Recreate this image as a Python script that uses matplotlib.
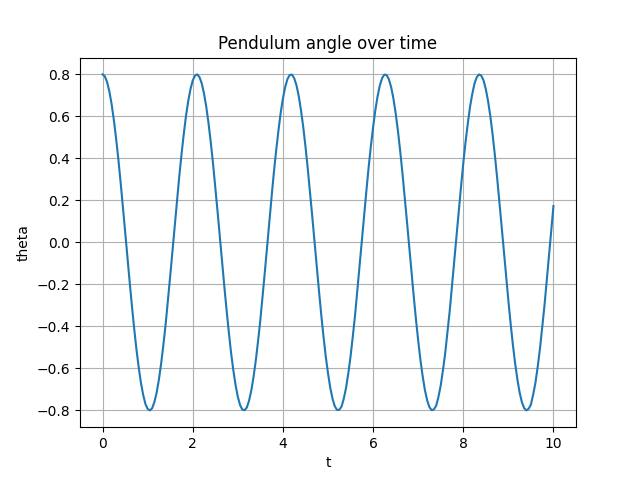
import matplotlib
matplotlib.use("Agg")
import matplotlib.pyplot as plt

# time samples (s), step 0.05 from 0 to 10
t = [round(0.05 * k, 2) for k in range(201)]

# pendulum angle (rad), one row per 0.5 s
theta = [
    0.800, 0.791, 0.764, 0.720, 0.660, 0.584, 0.496, 0.397, 0.288, 0.173,
    0.054, -0.066, -0.185, -0.299, -0.407, -0.506, -0.592, -0.667, -0.725, -0.769,
    -0.793, -0.800, -0.790, -0.760, -0.715, -0.653, -0.576, -0.487, -0.388, -0.276,
    -0.161, -0.042, 0.078, 0.196, 0.311, 0.417, 0.514, 0.601, 0.673, 0.730,
    0.771, 0.794, 0.800, 0.787, 0.757, 0.709, 0.646, 0.568, 0.477, 0.376,
    0.265, 0.149, 0.030, -0.090, -0.208, -0.321, -0.427, -0.525, -0.608, -0.679,
    -0.735, -0.775, -0.796, -0.799, -0.786, -0.753, -0.704, -0.639, -0.560, -0.468,
    -0.369, -0.254, -0.139, -0.018, 0.101, 0.219, 0.334, 0.437, 0.531, 0.616,
    0.685, 0.739, 0.777, 0.797, 0.799, 0.782, 0.749, 0.698, 0.631, 0.551,
    0.457, 0.354, 0.242, 0.126, 0.006, -0.114, -0.231, -0.344, -0.448, -0.543,
    -0.623, -0.692, -0.744, -0.780, -0.798, -0.797, -0.782, -0.744, -0.693, -0.624,
    -0.543, -0.448, -0.347, -0.231, -0.115, 0.006, 0.125, 0.242, 0.355, 0.457,
    0.548, 0.630, 0.696, 0.748, 0.782, 0.799, 0.797, 0.777, 0.740, 0.686,
    0.616, 0.533, 0.437, 0.332, 0.219, 0.102, -0.018, -0.138, -0.254, -0.365,
    -0.467, -0.560, -0.638, -0.704, -0.753, -0.785, -0.799, -0.795, -0.777, -0.735,
    -0.681, -0.608, -0.526, -0.427, -0.325, -0.208, -0.091, 0.030, 0.149, 0.265,
    0.377, 0.477, 0.565, 0.646, 0.707, 0.757, 0.787, 0.800, 0.794, 0.771,
    0.730, 0.673, 0.601, 0.515, 0.417, 0.310, 0.196, 0.078, -0.042, -0.161,
    -0.277, -0.386, -0.487, -0.576, -0.652, -0.715, -0.761, -0.789, -0.800, -0.792,
    -0.772, -0.725, -0.669, -0.593, -0.508, -0.407, -0.303, -0.185, -0.067, 0.054,
    0.173,
]

fig, ax = plt.subplots(figsize=(6.4, 4.8), dpi=100)
ax.plot(t, theta)
ax.set_xlabel("t")
ax.set_ylabel("theta")
ax.set_title("Pendulum angle over time")
ax.grid(True)
plt.savefig("out.png")
plt.close()
